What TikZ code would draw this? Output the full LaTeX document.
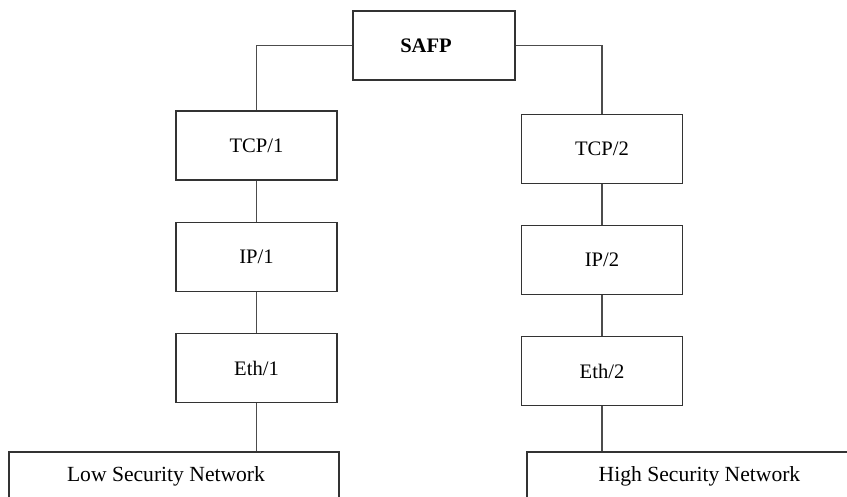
\documentclass[tikz,border=0pt]{standalone}
\usepackage{fontspec}
\setmainfont{Liberation Serif}
\begin{document}
\begin{tikzpicture}[x=0.5pt,y=-0.5pt,
  line width=0.65pt, draw=black!75,
  layer/.style={draw=black!80, line width=0.65pt, minimum width=80.5pt, minimum height=34.5pt,
    inner sep=0pt, font=\fontsize{10.3pt}{12pt}\selectfont},
  net/.style={draw=black!80, line width=0.65pt, minimum height=24pt, inner sep=0pt,
    font=\fontsize{10.8pt}{13pt}\selectfont},
  link/.style={draw=black!70, line width=0.6pt}]
  \useasboundingbox (0,0) rectangle (847,497);
  \clip (0,0) rectangle (847,497);
  \fill[white] (0,0) rectangle (847,497);

  % top-level filter, title set a little left of centre
  \node[layer, minimum width=81pt,
    label={[xshift=-4pt, font=\bfseries\fontsize{10.3pt}{12pt}\selectfont]center:SAFP}] (safp) at (434,45.5) {};

  % low side stack
  \node[layer] (tcp1) at (256.5,145.5) {TCP/1};
  \node[layer] (ip1)  at (256.5,257)   {IP/1};
  \node[layer] (eth1) at (256.5,368)   {Eth/1};

  % high side stack
  \node[layer] (tcp2) at (602,149)   {TCP/2};
  \node[layer] (ip2)  at (602,260)   {IP/2};
  \node[layer] (eth2) at (602,371.3) {Eth/2};

  % attached networks (continue past the lower edge)
  \node[net, minimum width=165pt,
    label={[xshift=-4pt, font=\fontsize{10.8pt}{13pt}\selectfont]center:Low Security Network}] (low) at (174,476) {};
  \node[net, minimum width=172.5pt] (high) at (699.5,476) {High Security Network};

  % connectors
  \draw[link] (safp.west) -| (tcp1.north);
  \draw[link] (safp.east) -| (tcp2.north);
  \draw[link] (tcp1) -- (ip1);
  \draw[link] (ip1) -- (eth1);
  \draw[link] (eth1) -- (eth1 |- low.north);
  \draw[link] (tcp2) -- (ip2);
  \draw[link] (ip2) -- (eth2);
  \draw[link] (eth2) -- (eth2 |- high.north);
\end{tikzpicture}
\end{document}
